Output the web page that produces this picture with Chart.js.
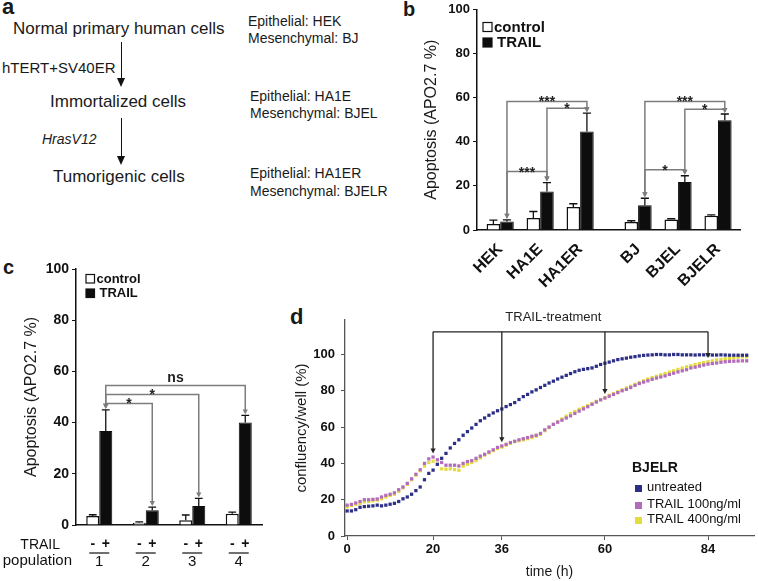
<!DOCTYPE html>
<html>
<head>
<meta charset="utf-8">
<script src="https://cdn.jsdelivr.net/npm/chart.js@4.4.0/dist/chart.umd.min.js"></script>
<style>
  body { margin: 0; background: #fff; }
  #page { position: relative; width: 758px; height: 581px; overflow: hidden;
          font-family: 'Liberation Sans', Arial, sans-serif; color: #1a1a1a; }
  .t { position: absolute; white-space: nowrap; line-height: 1; }
  .panel { font-weight: bold; }
  .box { position: absolute; }
  .line { position: absolute; background: #111; width: 1.5px; }
  .head { position: absolute; width: 0; height: 0; border-left: 4px solid transparent;
          border-right: 4px solid transparent; border-top: 9px solid #111; }
</style>
</head>
<body>
<div id="page">
  <!-- panel a: plain text scheme -->
  <div class="t panel" style="left:2px;top:-4px;font-size:22px">a</div>
  <div class="t" style="left:13px;top:20px;font-size:17px">Normal primary human cells</div>
  <div class="line" style="left:120.5px;top:42px;height:38px"></div>
  <div class="head" style="left:117.2px;top:78px"></div>
  <div class="t" style="left:2px;top:60px;font-size:15px">hTERT+SV40ER</div>
  <div class="t" style="left:50px;top:93px;font-size:17px">Immortalized cells</div>
  <div class="line" style="left:120.5px;top:118px;height:38px"></div>
  <div class="head" style="left:117.2px;top:156px"></div>
  <div class="t" style="left:42px;top:132px;font-size:14px;font-style:italic">HrasV12</div>
  <div class="t" style="left:53px;top:168px;font-size:17px">Tumorigenic cells</div>
  <div class="t" style="left:248px;top:14px;font-size:14px">Epithelial: HEK</div>
  <div class="t" style="left:248px;top:31px;font-size:14px">Mesenchymal: BJ</div>
  <div class="t" style="left:250px;top:89px;font-size:14px">Epithelial: HA1E</div>
  <div class="t" style="left:250px;top:106px;font-size:14px">Mesenchymal: BJEL</div>
  <div class="t" style="left:250px;top:166px;font-size:14px">Epithelial: HA1ER</div>
  <div class="t" style="left:250px;top:184px;font-size:14px">Mesenchymal: BJELR</div>

  <div class="t panel" style="left:403px;top:-1px;font-size:20px">b</div>
  <div class="t panel" style="left:3px;top:257px;font-size:20px">c</div>
  <div class="t panel" style="left:290px;top:306px;font-size:22px">d</div>

  <div class="box" style="left:400px;top:0;width:358px;height:290px"><canvas id="chartB"></canvas></div>
  <div class="box" style="left:0;top:259px;width:290px;height:322px"><canvas id="chartC"></canvas></div>
  <div class="box" style="left:290px;top:300px;width:468px;height:281px"><canvas id="chartD"></canvas></div>
</div>
<script>
// ---- panel b ----
const cellLines = ['HEK', 'HA1E', 'HA1ER', 'BJ', 'BJEL', 'BJELR'];
const bControl = [2.7, 5.4, 10.4, 3.6, 4.8, 6.5];
const bControlErr = [1.8, 3.0, 1.5, 0.6, 0.3, 0.4];
const bTrail = [3.8, 17.5, 44.7, 11.2, 21.8, 49.8];
const bTrailErr = [0.8, 4.0, 8.3, 3.2, 2.8, 2.8];
// [from, to, height, label]
const bSig = [[0, 2, 58.3, '***'], [1, 2, 55.2, '*'], [0, 1, 26.5, '***'],
              [3, 5, 58.3, '***'], [4, 5, 54.8, '*'], [3, 4, 27.3, '*']];
const apoTicks = [0, 20, 40, 60, 80, 100];

// ---- panel c ----
const populations = ['1', '2', '3', '4'];
const cControl = [3.5, 0.9, 1.9, 4.4];
const cControlErr = [0.5, 0.3, 2.0, 0.6];
const cTrail = [36.7, 5.8, 7.4, 40.0];
const cTrailErr = [8.3, 1.2, 3.0, 2.8];
const cSig = [[0, 3, 54.5, 'ns'], [0, 2, 51, '*'], [0, 1, 47.5, '*']];

// ---- panel d ----
const hours = [0,1,2,3,4,5,6,7,8,9,10,11,12,13,14,15,16,17,18,19,20,21,22,23,24,25,26,27,28,29,
  30,31,32,33,34,35,36,37,38,39,40,41,42,43,44,45,46,47,48,49,50,51,52,53,54,55,56,57,58,59,
  60,61,62,63,64,65,66,67,68,69,70,71,72,73,74,75,76,77,78,79,80,81,82,83,84,85,86,87,88,89,
  90,91,92,93];
const untreated = [13.8,13.8,14.5,15.8,16.2,16.4,16.6,17.0,16.6,17.0,
  17.5,18.0,19.0,20.5,21.5,23.0,25.0,27.0,31.0,34.5,
  36.3,39.5,42.8,45.5,48.5,51.0,53.0,55.5,57.5,59.5,
  61.5,63.5,65.0,66.5,67.8,69.0,70.0,71.3,72.4,73.5,
  75.2,76.8,78.0,79.4,80.5,81.8,83.0,84.3,85.3,86.5,
  87.5,88.5,89.5,90.5,91.3,91.8,92.2,92.6,93.5,94.5,
  95.2,95.8,96.5,97.2,97.6,98.0,98.5,98.8,99.2,99.5,
  99.7,99.8,100,100,99.8,99.8,100,100,99.8,99.8,
  99.8,99.7,99.8,99.8,99.8,99.7,99.7,99.8,99.7,99.6,
  99.6,99.6,99.6,99.6];
const trail100 = [17.0,17.4,18.2,19.0,20.0,20.0,20.2,20.4,21.5,22.4,
  23.0,23.8,25.5,27.0,29.0,31.5,34.0,36.5,40.0,42.5,
  43.5,42.0,40.5,39.0,39.0,39.0,38.6,40.0,41.0,41.5,
  42.8,44.0,45.0,46.3,47.5,48.8,49.6,50.5,51.5,52.2,
  53.0,53.6,54.2,55.0,55.5,56.5,58.5,60.0,61.5,62.7,
  63.8,65.0,66.2,67.5,68.8,70.0,71.2,72.5,73.8,75.0,
  76.0,77.0,78.0,79.0,80.0,80.8,81.8,83.0,84.0,84.8,
  85.5,86.3,87.0,87.6,88.2,89.0,89.7,90.4,91.0,91.6,
  92.6,93.0,93.6,94.2,94.7,95.0,95.3,95.7,96.0,96.2,
  96.3,96.4,96.5,96.5];
const trail400 = [16.1,16.8,17.5,18.0,18.8,19.0,19.4,19.8,20.5,21.5,
  22.3,23.0,24.5,26.5,28.5,31.0,33.5,36.0,38.5,40.5,
  41.2,39.5,37.0,36.8,37.0,36.6,36.2,38.5,39.5,40.5,
  41.5,43.0,44.5,45.8,47.0,48.2,49.0,50.0,51.0,52.0,
  52.5,53.0,53.6,54.2,55.0,56.0,58.0,59.8,61.5,63.0,
  64.5,66.0,67.5,68.6,69.8,70.8,71.8,73.0,74.2,75.2,
  76.3,77.5,78.5,79.5,80.5,81.5,82.5,83.5,84.5,85.5,
  86.5,87.3,88.0,88.8,89.5,90.3,91.0,91.8,92.5,93.2,
  93.8,94.5,95.0,95.5,96.0,96.5,97.0,97.3,97.6,97.9,
  98.2,98.5,98.7,98.7];
const treatTimes = [20, 36, 60, 84];
const hourTicks = [0, 20, 36, 60, 84];
const confTicks = [0, 20, 40, 60, 80, 100];

Chart.defaults.font.family = "'Liberation Sans', Arial, sans-serif";
Chart.defaults.color = '#1a1a1a';

const FONT = "'Liberation Sans', Arial, sans-serif";

function parsedY(chart, di, i) {
  return chart.getDatasetMeta(di).controller.getParsed(i).y;
}

function arrowHead(ctx, x, y) {
  ctx.beginPath();
  ctx.moveTo(x, y);
  ctx.lineTo(x - 2.6, y - 5);
  ctx.lineTo(x + 2.6, y - 5);
  ctx.closePath();
  ctx.fill();
}

// upward error bars for bar datasets
function errorBars(errSets) {
  return {
    id: 'errorBars',
    afterDatasetsDraw(chart) {
      const ctx = chart.ctx, ys = chart.scales.y;
      ctx.save();
      ctx.strokeStyle = '#111';
      ctx.lineWidth = 1.3;
      errSets.forEach((errs, di) => {
        chart.getDatasetMeta(di).data.forEach((bar, i) => {
          const top = ys.getPixelForValue(parsedY(chart, di, i) + errs[i]);
          const half = bar.width * 0.3;
          ctx.beginPath();
          ctx.moveTo(bar.x, bar.y);
          ctx.lineTo(bar.x, top);
          ctx.moveTo(bar.x - half, top);
          ctx.lineTo(bar.x + half, top);
          ctx.stroke();
        });
      });
      ctx.restore();
    }
  };
}

// significance brackets between TRAIL bars
function brackets(list, errs, labelFont) {
  return {
    id: 'brackets',
    afterDatasetsDraw(chart) {
      const ctx = chart.ctx, ys = chart.scales.y;
      const bars = chart.getDatasetMeta(1).data;
      ctx.save();
      list.forEach(([a, b, h, label]) => {
        const xa = bars[a].x, xb = bars[b].x, yl = ys.getPixelForValue(h);
        const ya = ys.getPixelForValue(parsedY(chart, 1, a) + errs[a]) - 1;
        const yb = ys.getPixelForValue(parsedY(chart, 1, b) + errs[b]) - 1;
        ctx.strokeStyle = '#7d7d7d';
        ctx.fillStyle = '#7d7d7d';
        ctx.lineWidth = 1.5;
        ctx.beginPath();
        ctx.moveTo(xa, ya - 4);
        ctx.lineTo(xa, yl);
        ctx.lineTo(xb, yl);
        ctx.lineTo(xb, yb - 4);
        ctx.stroke();
        arrowHead(ctx, xa, ya);
        arrowHead(ctx, xb, yb);
        ctx.fillStyle = '#222';
        ctx.font = labelFont;
        ctx.textAlign = 'center';
        ctx.textBaseline = 'alphabetic';
        ctx.fillText(label, (xa + xb) / 2, label === 'ns' ? yl - 3 : yl + 5);
      });
      ctx.restore();
    }
  };
}

// small square legend inside the plot
function boxLegend(dx, dy, size, gap, font) {
  return {
    id: 'boxLegend',
    afterDraw(chart) {
      const ctx = chart.ctx, area = chart.chartArea;
      ctx.save();
      ctx.font = font;
      ctx.textBaseline = 'middle';
      chart.data.datasets.forEach((ds, i) => {
        const x = area.left + dx, y = area.top + dy + i * gap;
        ctx.fillStyle = ds.backgroundColor;
        ctx.fillRect(x, y, size, size);
        ctx.strokeStyle = '#111';
        ctx.lineWidth = 1.2;
        ctx.strokeRect(x, y, size, size);
        ctx.fillStyle = '#111';
        ctx.fillText(ds.label, x + size + 2 + i * 3, y + size / 2 + 0.5);
      });
      ctx.restore();
    }
  };
}

function yAxis(width, titleText, titleSize, titlePad, tickFont, tickList) {
  return {
    min: 0, max: 100,
    afterFit: s => { s.width = width; },
    afterBuildTicks: s => { s.ticks = tickList.map(v => ({ value: v })); },
    ticks: { font: tickFont, color: '#111', padding: 3 },
    grid: { display: true, drawOnChartArea: false, tickLength: 4, color: '#111' },
    border: { display: true, color: '#111', width: 1.5 },
    title: { display: true, text: titleText, font: { size: titleSize }, color: '#1a1a1a',
             padding: { top: titlePad, bottom: 0 } }
  };
}

// ---- chart b ----
const bGap = 0.45; // extra space between epithelial and mesenchymal groups
const bX = cellLines.map((_, i) => i + (i >= 3 ? bGap : 0));

new Chart(document.getElementById('chartB'), {
  type: 'bar',
  data: {
    datasets: [
      { label: 'control', data: bX.map((x, i) => ({ x, y: bControl[i] })),
        backgroundColor: '#ffffff', borderColor: '#111', borderWidth: 1.5 },
      { label: 'TRAIL', data: bX.map((x, i) => ({ x, y: bTrail[i] })),
        backgroundColor: '#0d0d0d', borderColor: '#0d0d0d', borderWidth: 1 }
    ]
  },
  options: {
    responsive: true, maintainAspectRatio: false, animation: false, events: [],
    layout: { padding: { top: 7, right: 18, left: 0, bottom: 0 } },
    categoryPercentage: 0.68, barPercentage: 1,
    plugins: { legend: { display: false }, tooltip: { enabled: false } },
    scales: {
      x: {
        type: 'linear', min: -0.58, max: 6.0, offset: false,
        afterFit: s => { s.height = 60; },
        afterBuildTicks: s => { s.ticks = bX.map(v => ({ value: v })); },
        ticks: { autoSkip: false, maxRotation: 45, minRotation: 45, padding: 2,
                 font: { size: 16, weight: 'bold' }, color: '#111',
                 callback: (v, i) => cellLines[i] },
        grid: { display: false, offset: false },
        border: { display: true, color: '#111', width: 1.5 }
      },
      y: yAxis(77, 'Apoptosis (APO2.7 %)', 16, 22, { size: 13, weight: 'bold', lineHeight: 1 }, apoTicks)
    }
  },
  plugins: [errorBars([bControlErr, bTrailErr]), brackets(bSig, bTrailErr, 'bold 14px ' + FONT),
            boxLegend(6, 13, 9, 15.5, 'bold 15px ' + FONT)]
});

// ---- chart c ----
const cLabels = {
  id: 'cLabels',
  afterDraw(chart) {
    const ctx = chart.ctx, area = chart.chartArea;
    const ctrl = chart.getDatasetMeta(0).data, trt = chart.getDatasetMeta(1).data;
    ctx.save();
    ctx.fillStyle = '#111';
    ctx.strokeStyle = '#111';
    ctx.lineWidth = 1.2;
    ctx.font = '14px ' + FONT;
    ctx.textBaseline = 'middle';
    ctx.textAlign = 'right';
    ctx.fillText('TRAIL', 60, area.bottom + 20);
    ctx.font = '15px ' + FONT;
    ctx.fillText('population', 72, area.bottom + 36);
    ctx.textAlign = 'center';
    populations.forEach((p, i) => {
      const mid = (ctrl[i].x + trt[i].x) / 2;
      ctx.font = 'bold 14px ' + FONT;
      ctx.fillText('-', ctrl[i].x, area.bottom + 19);
      ctx.fillText('+', trt[i].x, area.bottom + 19);
      ctx.beginPath();
      ctx.moveTo(mid - 10, area.bottom + 28);
      ctx.lineTo(mid + 10, area.bottom + 28);
      ctx.stroke();
      ctx.font = '15px ' + FONT;
      ctx.fillText(p, mid, area.bottom + 37);
    });
    ctx.restore();
  }
};

new Chart(document.getElementById('chartC'), {
  type: 'bar',
  data: {
    labels: populations,
    datasets: [
      { label: 'control', data: cControl, backgroundColor: '#ffffff', borderColor: '#111', borderWidth: 1.5 },
      { label: 'TRAIL', data: cTrail, backgroundColor: '#0d0d0d', borderColor: '#0d0d0d', borderWidth: 1 }
    ]
  },
  options: {
    responsive: true, maintainAspectRatio: false, animation: false, events: [],
    layout: { padding: { top: 7, right: 28, left: 0, bottom: 0 } },
    categoryPercentage: 0.56, barPercentage: 1,
    plugins: { legend: { display: false }, tooltip: { enabled: false } },
    scales: {
      x: {
        afterFit: s => { s.height = 56; },
        ticks: { display: false },
        grid: { display: false },
        border: { display: true, color: '#111', width: 1.5 }
      },
      y: yAxis(76, 'Apoptosis (APO2.7 %)', 16, 22, { size: 14, weight: 'bold', lineHeight: 1 }, apoTicks)
    }
  },
  plugins: [errorBars([cControlErr, cTrailErr]), brackets(cSig, cTrailErr, 'bold 14px ' + FONT),
            boxLegend(10, 5.5, 8.5, 14.5, 'bold 13px ' + FONT), cLabels]
});

// ---- chart d ----
const dColors = ['#2d2f87', '#b36cbc', '#e3dc3c'];
const dNames = ['untreated', 'TRAIL 100ng/ml', 'TRAIL 400ng/ml'];

const treatArrows = {
  id: 'treatArrows',
  afterDatasetsDraw(chart) {
    const ctx = chart.ctx, xs = chart.scales.x, ys = chart.scales.y, area = chart.chartArea;
    const yl = ys.getPixelForValue(112.5);
    const xFirst = xs.getPixelForValue(treatTimes[0]);
    const xLast = xs.getPixelForValue(treatTimes[treatTimes.length - 1]);
    ctx.save();
    ctx.strokeStyle = '#222';
    ctx.fillStyle = '#222';
    ctx.lineWidth = 1.3;
    ctx.beginPath();
    ctx.moveTo(xFirst, yl);
    ctx.lineTo(xLast, yl);
    ctx.stroke();
    treatTimes.forEach(t => {
      const i = hours.indexOf(t);
      const x = xs.getPixelForValue(t);
      const tip = ys.getPixelForValue(Math.max(trail100[i], trail400[i]) + 2);
      ctx.beginPath();
      ctx.moveTo(x, yl);
      ctx.lineTo(x, tip - 4);
      ctx.stroke();
      arrowHead(ctx, x, tip);
    });
    const mid = (xs.getPixelForValue(treatTimes[1]) + xs.getPixelForValue(treatTimes[2])) / 2;
    ctx.font = '13px ' + FONT;
    ctx.textAlign = 'center';
    ctx.textBaseline = 'middle';
    ctx.fillText('TRAIL-treatment', mid, area.top - 3);
    ctx.restore();
  }
};

const dLegend = {
  id: 'dLegend',
  afterDraw(chart) {
    const ctx = chart.ctx, area = chart.chartArea;
    const x = area.left + 287;
    ctx.save();
    ctx.fillStyle = '#111';
    ctx.textBaseline = 'middle';
    ctx.font = 'bold 14px ' + FONT;
    ctx.fillText('BJELR', x, area.top + 148.5);
    ctx.font = '13px ' + FONT;
    const rows = [168, 185, 200];
    dNames.forEach((n, i) => {
      ctx.fillStyle = dColors[i];
      ctx.fillRect(x + 3, area.top + rows[i] - 3, 7, 7);
      ctx.fillStyle = '#111';
      ctx.fillText(n, x + 15, area.top + rows[i] - 1);
    });
    ctx.restore();
  }
};

new Chart(document.getElementById('chartD'), {
  type: 'scatter',
  data: {
    datasets: [untreated, trail100, trail400].map((vals, k) => ({
      label: dNames[k],
      data: hours.map((h, i) => ({ x: h, y: vals[i] })),
      backgroundColor: dColors[k], borderColor: dColors[k],
      pointStyle: 'rect', pointRadius: 2.3, borderWidth: 0, pointBorderWidth: 0
    }))
  },
  options: {
    responsive: true, maintainAspectRatio: false, animation: false, events: [],
    layout: { padding: { top: 20, right: 1, left: 0, bottom: 0 } },
    plugins: { legend: { display: false }, tooltip: { enabled: false } },
    scales: {
      x: {
        type: 'linear', min: -0.5, max: 94.7,
        afterFit: s => { s.height = 45; },
        afterBuildTicks: s => { s.ticks = hourTicks.map(v => ({ value: v })); },
        ticks: { font: { size: 13, weight: 'bold' }, color: '#111', padding: 2 },
        grid: { display: true, drawOnChartArea: false, tickLength: 4, color: '#555' },
        border: { display: true, color: '#555', width: 1.3 },
        title: { display: true, text: 'time (h)', font: { size: 14 }, color: '#1a1a1a',
                 padding: { top: 2, bottom: 0 } }
      },
      y: {
        min: 0, max: 119,
        afterFit: s => { s.width = 55; },
        afterBuildTicks: s => { s.ticks = confTicks.map(v => ({ value: v })); },
        ticks: { font: { size: 13, weight: 'bold', lineHeight: 1 }, color: '#111', padding: 6 },
        grid: { display: true, drawOnChartArea: false, tickLength: 4, color: '#555' },
        border: { display: true, color: '#555', width: 1.3 },
        title: { display: true, text: 'confluency/well (%)', font: { size: 15 }, color: '#1a1a1a',
                 padding: { top: 3, bottom: 0 } }
      }
    }
  },
  plugins: [treatArrows, dLegend]
});
</script>
</body>
</html>
